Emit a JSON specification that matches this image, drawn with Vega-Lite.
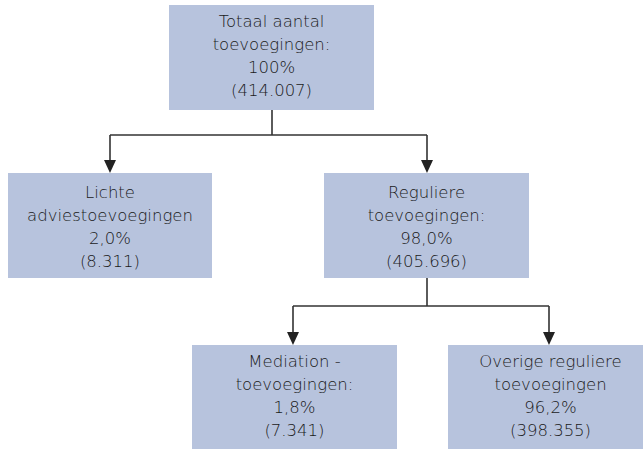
{
  "$schema": "https://vega.github.io/schema/vega-lite/v6.json",
  "width": 643,
  "height": 449,
  "padding": 0,
  "autosize": {"type": "none"},
  "background": "white",
  "config": {"view": {"stroke": null}},
  "datasets": {
    "nodes": [
      {"node": "Totaal", "label": "Totaal aantal\ntoevoegingen:\n100%\n(414.007)", "left": 169, "right": 374, "top": 5, "bottom": 110, "cx": 271.5, "ty": 22},
      {"node": "Lichte", "label": "Lichte\nadviestoevoegingen\n2,0%\n(8.311)", "left": 8, "right": 212, "top": 173, "bottom": 278, "cx": 110, "ty": 192.5},
      {"node": "Reguliere", "label": "Reguliere\ntoevoegingen:\n98,0%\n(405.696)", "left": 324, "right": 529, "top": 173, "bottom": 278, "cx": 426.5, "ty": 192.5},
      {"node": "Mediation", "label": "Mediation -\ntoevoegingen:\n1,8%\n(7.341)", "left": 192, "right": 397, "top": 345, "bottom": 452, "cx": 294.5, "ty": 362},
      {"node": "Overige", "label": "Overige reguliere\ntoevoegingen\n96,2%\n(398.355)", "left": 448, "right": 653, "top": 345, "bottom": 452, "cx": 550.5, "ty": 362}
    ],
    "edges": [
      {"xa": 272, "ya": 110, "xb": 272, "yb": 135},
      {"xa": 110, "ya": 135, "xb": 427, "yb": 135},
      {"xa": 110, "ya": 135, "xb": 110, "yb": 166},
      {"xa": 427, "ya": 135, "xb": 427, "yb": 166},
      {"xa": 427, "ya": 278, "xb": 427, "yb": 306},
      {"xa": 293, "ya": 306, "xb": 549, "yb": 306},
      {"xa": 293, "ya": 306, "xb": 293, "yb": 338},
      {"xa": 549, "ya": 306, "xb": 549, "yb": 338}
    ],
    "arrows": [
      {"xa": 110, "ya": 166.5},
      {"xa": 427, "ya": 166.5},
      {"xa": 293, "ya": 338.5},
      {"xa": 549, "ya": 338.5}
    ]
  },
  "layer": [
    {
      "data": {"name": "nodes"},
      "mark": {"type": "rect", "color": "#b7c3dd", "clip": true},
      "encoding": {
        "x": {"field": "left", "type": "quantitative", "scale": {"domain": [0, 643], "nice": false, "zero": false}, "axis": null},
        "x2": {"field": "right"},
        "y": {"field": "top", "type": "quantitative", "scale": {"domain": [0, 449], "reverse": true, "nice": false, "zero": false}, "axis": null},
        "y2": {"field": "bottom"}
      }
    },
    {
      "data": {"name": "edges"},
      "mark": {"type": "rule", "color": "#333333", "strokeWidth": 1.6},
      "encoding": {
        "x": {"field": "xa", "type": "quantitative"},
        "x2": {"field": "xb"},
        "y": {"field": "ya", "type": "quantitative"},
        "y2": {"field": "yb"}
      }
    },
    {
      "data": {"name": "arrows"},
      "mark": {"type": "point", "shape": "M-0.92,-1L0.92,-1L0,1Z", "filled": true, "color": "#222222", "size": 169, "opacity": 1},
      "encoding": {
        "x": {"field": "xa", "type": "quantitative"},
        "y": {"field": "ya", "type": "quantitative"}
      }
    },
    {
      "data": {"name": "nodes"},
      "mark": {"type": "text", "lineBreak": "\n", "font": "DejaVu Sans", "fontWeight": 200, "fontSize": 16.5, "lineHeight": 23, "color": "#1a1a1a", "align": "center", "baseline": "middle"},
      "encoding": {
        "x": {"field": "cx", "type": "quantitative"},
        "y": {"field": "ty", "type": "quantitative"},
        "text": {"field": "label", "type": "nominal"}
      }
    }
  ]
}
